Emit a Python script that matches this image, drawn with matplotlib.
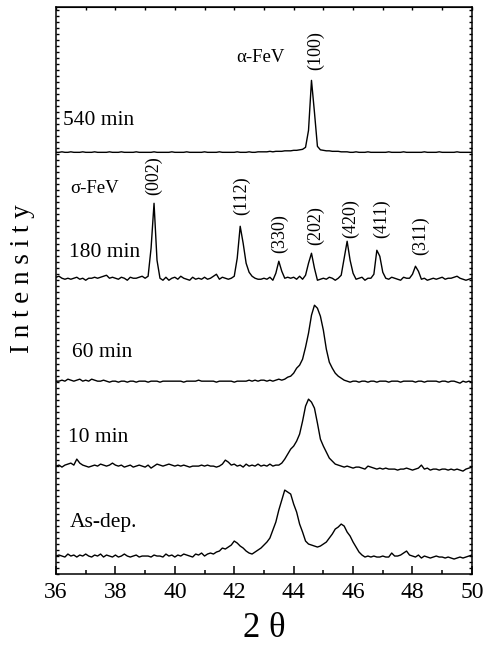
import numpy as np
import matplotlib
matplotlib.use('Agg')
import matplotlib.pyplot as plt
from matplotlib.ticker import MultipleLocator

plt.rcParams['font.family'] = ['Liberation Serif', 'DejaVu Serif']

# 2-theta scan grid, 0.1 deg step
two_theta = np.round(np.arange(36.0, 50.05, 0.1), 2)

# intensities (arb. units), one row per degree
i_540 = [0, 0, 0.5, 0, 0, 0.5, 0, 0, 0, 0.5,
         0, 0, 0, 0.5, 0, 0, 0, 0, 0.5, 0,
         0, 0, 0.5, 0, 0, 0, 0, 0.5, 0, 0,
         0, 0, 0, 0.5, 0, 0, 0, 0, 0, 0.5,
         0, 0, 0, 0, 0.5, 0, 0, 0, 0, 0,
         0.5, 0, 0, 0, 0, 0.5, 0, 0, 0, 0,
         0, 0.5, 0, 0, 0, 0.5, 0, 0, 0.5, 0.5,
         0.5, 0.5, 1, 0.5, 1, 1, 1, 1.5, 1.5, 1.5,
         2, 2, 2.5, 3, 5, 22, 72, 40, 6, 2.5,
         2, 1.5, 1.5, 1, 1, 1, 0.5, 0.5, 0.5, 0,
         0, 0.5, 0, 0, 0, 0.5, 0, 0, 0, 0,
         0, 0, 0.5, 0, 0, 0, 0, 0.5, 0, 0,
         0, 0, 0, 0, 0.5, 0, 0, 0, 0, 0.5,
         0, 0, 0, 0, 0, 0.5, 0, 0, 0, 0,
         0]

i_180 = [1, 2, 0, -1, 0, -1, 0, 1, -1, 0,
         -2, 0, 0, 1, 0, 1, 2, 3, 0, 1,
         0, -1, 1, 0, -2, 1, 0, 0, 1, 2,
         0, 2, 30, 75, 18, 0, -2, 1, -2, 0,
         1, -1, 2, 0, -1, -2, 1, -1, 0, -1,
         1, -1, 0, 2, 4, -1, 1, 0, -1, 0,
         2, 20, 52, 35, 15, 6, 2, 0, -1, -1,
         0, -1, 1, -2, 5, 17, 7, 0, 1, 0,
         1, -1, 2, -1, 3, 15, 25, 10, -2, -1,
         0, -1, 1, 0, -2, 0, 3, 20, 37, 18,
         5, -1, 0, 1, -2, 0, 0, 4, 28, 22,
         6, 0, -1, 1, 0, -1, -2, 1, 0, 0,
         4, 12, 7, -1, 0, -2, -1, 0, -1, 0,
         1, -1, 0, 0, 1, 2, 0, -1, -2, -1,
         0]

i_60 = [0, 0, 1, 0, 2, 1, 0, 1, 2, 0,
        1, 0, 2, 1, 0, 0, 1, 0, -1, 0,
        0, -1, 0, 0, -1, 0, 0, -1, 0, 0,
        0, -1, 0, 0, 0, -1, 0, 0, 0, 0,
        0, 0, 0, -1, 0, 0, 0, 0, 1, 0,
        0, 0, 0, 0, -1, 0, 0, 0, 0, 0,
        -1, 0, 0, 0, 0, 1, 0, 1, 0, 1,
        1, 0, 1, 0, 1, 2, 1, 2, 4, 5,
        8, 13, 16, 22, 34, 48, 66, 76, 73, 65,
        51, 32, 19, 13, 8, 5, 3, 1, 0, -1,
        0, 0, -1, 0, 0, -1, 0, 0, -1, 0,
        0, 0, -1, 0, 0, 0, -1, 0, 0, 0,
        0, -1, 0, 0, -1, 0, 0, 0, 0, -1,
        0, 0, -1, 0, 0, -1, -2, 0, -1, 0,
        -1]

i_10 = [0, 1, -1, 1, 2, 3, 1, 7, 3, 1,
        0, -1, 0, 1, 0, 2, 1, 0, 1, 3,
        1, 0, 1, -1, 0, 1, -1, 0, 1, 0,
        -1, 1, -2, 0, 2, 1, 0, 1, 2, 1,
        0, 1, 0, 1, 0, -1, 0, 0, 0, 1,
        0, 1, 0, 0, -1, 0, 2, 6, 4, 1,
        2, 0, 1, -1, 2, 0, 1, 0, 2, 0,
        1, 0, 2, 0, 1, 1, 3, 7, 12, 17,
        20, 25, 32, 45, 60, 67, 64, 58, 43, 27,
        20, 14, 8, 5, 2, 1, 0, -1, 0, -1,
        -2, -1, -1, -2, -3, 0, -1, -2, -3, -2,
        -3, -2, -3, -3, -3, -4, -3, -3, -2, -3,
        -4, -3, -2, 1, -3, -2, -4, -3, -3, -4,
        -3, -3, -4, -3, -4, -3, -4, -5, -3, -2,
        -1]

i_asdep = [0, 1, 0, -1, 2, 0, 1, -1, 1, 0,
           2, 0, -1, 1, 0, 2, -1, 1, 0, -1,
           1, -1, 0, 2, 0, -1, 0, 1, -1, 0,
           0, 0, -1, 1, 0, 0, -1, 2, 0, 1,
           -1, 1, 0, 2, 1, 0, -1, 2, 1, 3,
           0, 2, 3, 2, 4, 5, 8, 7, 9, 11,
           15, 13, 10, 8, 5, 3, 2, 4, 6, 8,
           11, 14, 18, 26, 34, 46, 56, 66, 64, 62,
           52, 44, 32, 24, 15, 12, 11, 10, 9, 10,
           12, 14, 18, 22, 27, 29, 32, 30, 24, 20,
           14, 9, 4, 1, -1, 0, -1, 0, -1, -1,
           0, -1, -1, 3, 0, 0, 1, 3, 5, 1,
           0, -1, 1, -2, 0, -1, -2, -1, 0, -1,
           -1, -2, -1, -2, -3, -2, -1, -2, -1, 0,
           1]

series = [i_asdep, i_10, i_60, i_180, i_540]
offsets = [18, 108, 193, 296, 422]
labels = ['As-dep.', '10 min', '60 min', '180 min', '540 min']
label_y = [52, 137, 222, 322, 454]
label_x = [36.45, 36.41, 36.53, 36.44, 36.25]

# peak indices
sigma_hkl = ['(002)', '(112)', '(330)', '(202)', '(420)', '(411)', '(311)']
sigma_pos = [39.29, 42.25, 43.52, 44.75, 45.90, 46.97, 48.26]
sigma_lab_y = [379, 359, 321, 329, 336, 336, 319]

fig = plt.figure(figsize=(4.87, 6.52), dpi=100)
ax = fig.add_axes([0.115, 0.1196, 0.854, 0.869])

for s, off in zip(series, offsets):
    ax.plot(two_theta, np.array(s) + off, color='k', lw=1.0)

for lab, lx, ly in zip(labels, label_x, label_y):
    ax.text(lx, ly, lab, fontsize=15.5, va='center', ha='left')

ax.text(42.87, 517, 'α-FeV', fontsize=13.5, ha='center', va='center')
ax.text(44.74, 504, '(100)', fontsize=13, rotation=90, ha='center', va='bottom')
ax.text(37.31, 386, 'σ-FeV', fontsize=13.5, ha='center', va='center')
for hkl, px, py in zip(sigma_hkl, sigma_pos, sigma_lab_y):
    ax.text(px, py, hkl, fontsize=13, rotation=90, ha='center', va='bottom')

ax.set_xlim(36, 50)
ax.set_ylim(0, 567)
ax.xaxis.set_major_locator(MultipleLocator(2))
ax.xaxis.set_minor_locator(MultipleLocator(1))
ax.yaxis.set_major_locator(MultipleLocator(6))
ax.set_yticklabels([])
ax.tick_params(axis='x', which='major', direction='in', length=6, width=1.1,
               labelsize=17, pad=6)
ax.tick_params(axis='x', which='minor', direction='in', length=3, width=1.1)
ax.tick_params(axis='y', which='major', direction='in', length=2, width=1.0,
               left=True, right=True)

top = ax.secondary_xaxis('top')
top.xaxis.set_major_locator(MultipleLocator(1))
top.tick_params(direction='in', length=2, width=1.0, labeltop=False)

for sp in ax.spines.values():
    sp.set_linewidth(1.1)

ax.set_xlabel('2 θ', fontsize=25, labelpad=6)
ax.set_ylabel('I n t e n s i t y', fontsize=19.5)
ax.yaxis.set_label_coords(-0.05, 0.522)

fig.savefig('out.png', dpi=100)
